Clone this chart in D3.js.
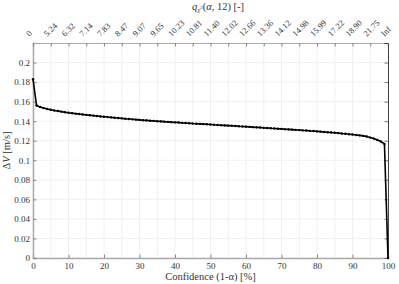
<!DOCTYPE html>
<html>
<head>
<meta charset="utf-8">
<title>Delta V vs confidence</title>
<script src="https://cdn.jsdelivr.net/npm/d3@7"></script>
<style>
  body { margin: 0; background: #fff; }
</style>
</head>
<body>
<script>
// confidence levels (1-alpha) in percent
var confidence = [0,1,2,3,4,5,6,7,8,9,10,11,12,13,14,15,16,17,18,19,20,21,22,23,24,25,26,27,28,29,30,
  31,32,33,34,35,36,37,38,39,40,41,42,43,44,45,46,47,48,49,50,51,52,53,54,55,56,57,58,59,60,
  61,62,63,64,65,66,67,68,69,70,71,72,73,74,75,76,77,78,79,80,81,82,83,84,85,86,87,88,89,90,
  91,92,93,94,95,96,97,98,99,100];

// delta V [m/s]
var deltaV = [0.1830,0.1560,0.1545,0.1534,0.1525,0.1517,0.1510,0.1504,0.1498,0.1492,
  0.1487,0.1482,0.1477,0.1473,0.1469,0.1465,0.1461,0.1457,0.1453,0.1449,
  0.1446,0.1442,0.1439,0.1435,0.1432,0.1429,0.1425,0.1422,0.1419,0.1416,
  0.1413,0.1410,0.1408,0.1405,0.1403,0.1400,0.1398,0.1395,0.1393,0.1390,
  0.1388,0.1386,0.1383,0.1381,0.1379,0.1376,0.1374,0.1372,0.1370,0.1368,
  0.1366,0.1363,0.1361,0.1359,0.1357,0.1355,0.1353,0.1351,0.1348,0.1346,
  0.1344,0.1342,0.1339,0.1337,0.1335,0.1332,0.1330,0.1327,0.1325,0.1323,
  0.1321,0.1318,0.1316,0.1314,0.1311,0.1309,0.1306,0.1304,0.1301,0.1299,
  0.1296,0.1293,0.1290,0.1287,0.1284,0.1281,0.1278,0.1274,0.1271,0.1267,
  0.1263,0.1259,0.1255,0.1250,0.1244,0.1232,0.1222,0.1208,0.1192,0.1167,
  0];

var xTicks = [0,10,20,30,40,50,60,70,80,90,100];
var topTicks = [0,5,10,15,20,25,30,35,40,45,50,55,60,65,70,75,80,85,90,95,100];
var topLabels = ["0","5.24","6.32","7.14","7.83","8.47","9.07","9.65","10.23","10.81",
  "11.40","12.02","12.66","13.36","14.12","14.98","15.99","17.22","18.90","21.75","Inf"];
var yTicks = [0,0.02,0.04,0.06,0.08,0.1,0.12,0.14,0.16,0.18,0.2];

var serif = "'Liberation Serif', 'DejaVu Serif', serif";
var width = 399, height = 284;
var margin = {top: 43, right: 11, bottom: 26, left: 33};

var svg = d3.select("body").append("svg")
    .attr("width", width)
    .attr("height", height);

var x = d3.scaleLinear().domain([0, 100]).range([margin.left, width - margin.right]);
var y = d3.scaleLinear().domain([0, 0.22]).range([height - margin.bottom, margin.top]);

// grid
svg.append("g").selectAll("line").data(topTicks).enter().append("line")
    .attr("x1", d => x(d)).attr("x2", d => x(d))
    .attr("y1", y(0)).attr("y2", y(0.22))
    .attr("stroke", "#ececec").attr("stroke-width", 0.8);
svg.append("g").selectAll("line").data(yTicks).enter().append("line")
    .attr("x1", x(0)).attr("x2", x(100))
    .attr("y1", d => y(d)).attr("y2", d => y(d))
    .attr("stroke", "#ececec").attr("stroke-width", 0.8);

function styleText(sel, size) {
  sel.style("font-family", serif).style("font-size", size).attr("fill", "#333");
}

// bottom axis
var gx = svg.append("g")
    .attr("transform", "translate(0," + y(0) + ")")
    .call(d3.axisBottom(x).tickValues(xTicks).tickSize(-3.5).tickPadding(5).tickFormat(d3.format("d")));
gx.select(".domain").attr("stroke", "#aaa").attr("stroke-width", 1.5);
gx.selectAll(".tick line").attr("stroke", "#888");
styleText(gx.selectAll("text"), "9px");

// left axis
var gy = svg.append("g")
    .attr("transform", "translate(" + x(0) + ",0)")
    .call(d3.axisLeft(y).tickValues(yTicks).tickSize(-3.5).tickPadding(3).tickFormat(d => d === 0 ? "0" : d3.format("")(+d.toFixed(2))));
gy.select(".domain").attr("stroke", "#aaa").attr("stroke-width", 1.5);
gy.selectAll(".tick line").attr("stroke", "#888");
styleText(gy.selectAll("text"), "9px");

// top axis (chi-square quantiles)
var gt = svg.append("g")
    .attr("transform", "translate(0," + y(0.22) + ")")
    .call(d3.axisTop(x).tickValues(topTicks).tickSize(-3.5).tickFormat((d, i) => topLabels[i]));
gt.select(".domain").attr("stroke", "#aaa").attr("stroke-width", 1.2);
gt.selectAll(".tick line").attr("stroke", "#888");
styleText(gt.selectAll("text"), "8.5px");
gt.selectAll("text")
    .attr("text-anchor", "start")
    .attr("x", -4).attr("y", -6).attr("dy", 0)
    .attr("transform", "rotate(-45,-4,-6)");

// right axis
var gr = svg.append("g")
    .attr("transform", "translate(" + x(100) + ",0)")
    .call(d3.axisRight(y).tickValues(yTicks).tickSize(-3.5).tickFormat(""));
gr.select(".domain").attr("stroke", "#444").attr("stroke-width", 1);
gr.selectAll(".tick line").attr("stroke", "#777");

// data
var pts = confidence.map((c, i) => [c, deltaV[i]]);
var line = d3.line().x(d => x(d[0])).y(d => y(d[1]));
svg.append("path")
    .datum(pts)
    .attr("d", line)
    .attr("fill", "none")
    .attr("stroke", "#000")
    .attr("stroke-width", 1.6);
svg.append("g").selectAll("circle").data(pts).enter().append("circle")
    .attr("cx", d => x(d[0])).attr("cy", d => y(d[1]))
    .attr("r", 1.2).attr("fill", "#000");

// labels
var xl = svg.append("text")
    .attr("x", (x(0) + x(100)) / 2).attr("y", 280)
    .attr("text-anchor", "middle")
    .text("Confidence (1-α) [%]");
styleText(xl, "10.5px");

var yl = svg.append("text")
    .attr("transform", "translate(10," + (y(0) + y(0.22)) / 2 + ") rotate(-90)")
    .attr("text-anchor", "middle");
styleText(yl, "10.5px");
yl.append("tspan").text("Δ");
yl.append("tspan").style("font-style", "italic").text("V");
yl.append("tspan").text(" [m/s]");

var tl = svg.append("text")
    .attr("x", 218).attr("y", 10)
    .attr("text-anchor", "middle");
styleText(tl, "10.5px");
tl.append("tspan").style("font-style", "italic").text("q");
tl.append("tspan").style("font-style", "italic").style("font-size", "7px").attr("dy", 2).text("χ");
tl.append("tspan").style("font-size", "5px").attr("dy", -3).text("2");
tl.append("tspan").attr("dy", 1).text("(");
tl.append("tspan").style("font-style", "italic").text("α");
tl.append("tspan").text(", 12) [-]");
</script>
</body>
</html>
